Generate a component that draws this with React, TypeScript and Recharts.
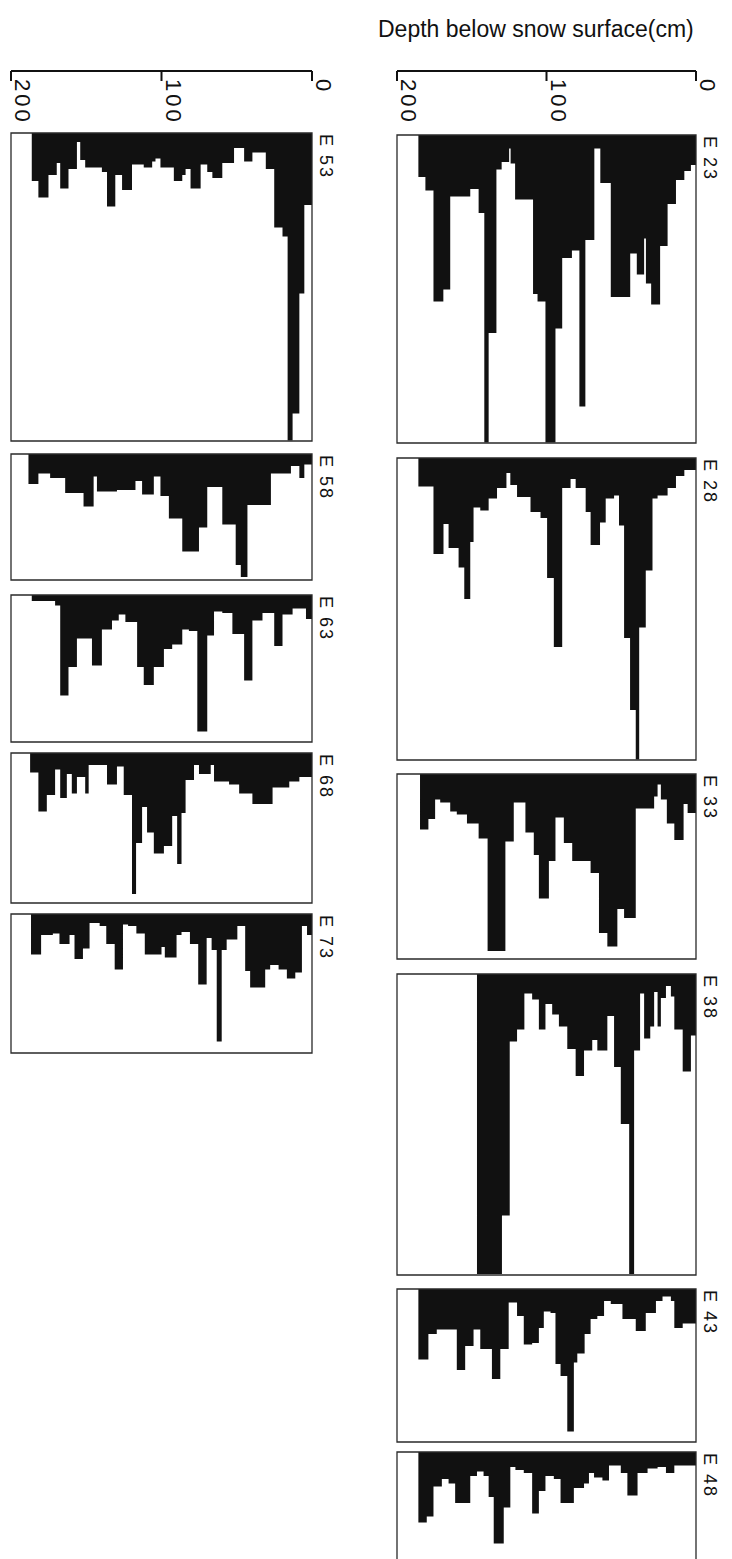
import React from 'react';
import { AreaChart, Area, XAxis, YAxis, ReferenceArea } from 'recharts';

// each profile: [depth where the step starts (cm), length of the black band from the top (cm)]
type Step = [number, number];

const E23: Step[] = [
  [0, 20], [3.4, 24], [7.8, 30], [13.4, 46], [19, 74], [24, 113], [30, 99], [33.5, 69], [34.7, 93],
  [39.6, 79], [44, 108], [57, 32], [64, 9], [68, 70], [74, 181], [78, 77], [83, 82], [89.5, 129],
  [94, 205], [100.7, 111], [106, 106], [109, 43], [121, 19], [124, 9], [125, 18], [130, 23],
  [133.5, 132], [138.7, 205], [141.6, 52], [145.4, 36], [151, 41], [164.4, 103], [169, 111],
  [175.6, 37], [181, 28], [185.7, 0], [200, 0],
];
const E28: Step[] = [
  [0, 8], [7.8, 12], [13.4, 20], [19, 25], [25.7, 27], [29.1, 75], [33.6, 113], [38, 201], [40.3, 168],
  [44.1, 120], [48.1, 45], [51.5, 25], [54.8, 27], [60.4, 43], [64.2, 58], [70.5, 36], [73.8, 20],
  [80.5, 14], [83.9, 20], [89.5, 126], [95.1, 80], [99.6, 40], [104, 36], [110.7, 26], [119.7, 18],
  [124.2, 10], [126.8, 20], [133.1, 27], [138.7, 35], [144.3, 33], [148.8, 56], [151, 94], [155, 73],
  [158.8, 60], [165.5, 44], [168.9, 64], [175.6, 19], [185.7, 0], [200, 0],
];
const E33: Step[] = [
  [0, 26], [5.6, 20], [8.3, 44], [14.5, 33], [19.5, 17], [23.5, 7], [25.7, 15], [28, 23], [40.3, 96],
  [48.1, 90], [52.6, 115], [59.3, 106], [64.9, 66], [70.5, 58], [82.8, 46], [88.4, 29], [94, 58],
  [98.4, 83], [105.1, 54], [108.5, 39], [114.1, 19], [121.9, 45], [127.5, 118], [139.4, 43],
  [145.4, 33], [153.2, 27], [160, 25], [164.4, 19], [171.1, 17], [174.5, 30], [179, 37], [184.6, 0],
  [200, 0],
];
const E38: Step[] = [
  [0, 41], [3.4, 65], [8.9, 37], [14.5, 15], [16.8, 8], [20.1, 16], [23.5, 35], [25.7, 12], [28, 35],
  [30.6, 43], [34.7, 13], [37.4, 51], [41.4, 200], [44.7, 100], [50.3, 62], [54.8, 28], [59.3, 51],
  [66, 44], [69.4, 51], [74.9, 68], [80.5, 50], [86.1, 35], [91.7, 27], [96.2, 20], [100.7, 37],
  [105.1, 17], [109.6, 13], [114.8, 37], [119.7, 45], [124.6, 161], [129.8, 200], [146.5, 0], [200, 0],
];
const E43: Step[] = [
  [0, 23], [8.9, 26], [14.5, 8], [16.8, 5], [22.4, 8], [26.8, 16], [33.6, 28], [40.3, 20], [49.2, 10],
  [57, 8], [61.5, 18], [66, 20], [70.5, 30], [74.5, 43], [79.4, 49], [81.7, 95], [86.1, 58],
  [90.6, 50], [94, 16], [97.3, 15], [101.8, 26], [105.1, 36], [109.6, 37], [115.2, 18], [119.7, 9],
  [125.3, 40], [130.9, 60], [136.5, 40], [144.3, 27], [148.8, 38], [154.4, 54], [160, 27], [173.4, 30],
  [179, 47], [185.7, 0], [200, 0],
];
const E48: Step[] = [
  [0, 9], [14.5, 14], [20.1, 10], [25.7, 11], [32.4, 14], [39.1, 29], [45.9, 14], [50.3, 9], [58.2, 19],
  [62.6, 17], [68.2, 14], [71.6, 21], [74.9, 24], [81.7, 34], [90.6, 18], [95.1, 16], [100.7, 26],
  [105.1, 41], [109.6, 14], [115.2, 12], [120.8, 10], [124.2, 37], [128.6, 61], [135.3, 30],
  [138.7, 16], [142.1, 13], [146.5, 16], [151, 34], [161.1, 21], [165.5, 18], [170, 23], [175.6, 43],
  [180.1, 47], [185.7, 0], [200, 0],
];
const E53: Step[] = [
  [0, 48], [5.1, 107], [8.4, 187], [12.9, 205], [16.2, 69], [19.6, 63], [25.1, 24], [30.7, 13],
  [39.6, 19], [45.1, 10], [51.8, 20], [59.6, 30], [66.2, 26], [69.6, 21], [74, 37], [80.7, 24],
  [84, 28], [86.2, 32], [91.8, 23], [100.7, 17], [104, 19], [106.2, 23], [111.8, 21], [119.6, 38],
  [126.2, 28], [130.7, 49], [136.2, 26], [139.6, 23], [150.7, 18], [154, 6], [156.2, 24], [161.8, 37],
  [167.3, 20], [169.6, 28], [175.1, 43], [181.8, 32], [186.2, 0], [200, 0],
];
const E58: Step[] = [
  [0, 7], [5.1, 16], [8.4, 8], [14, 13], [27.3, 34], [42.9, 82], [47.3, 74], [50.7, 47], [59.6, 22],
  [69.6, 49], [75.1, 65], [86.2, 43], [95.1, 28], [100.7, 15], [105.1, 27], [112.9, 18], [117.3, 24],
  [129.6, 25], [142.9, 15], [145.1, 35], [151.8, 26], [164, 16], [174, 13], [181.8, 20], [188.4, 0],
  [200, 0],
];
const E63: Step[] = [
  [0, 16], [4, 9], [12.9, 13], [19.6, 34], [25.1, 12], [32.9, 17], [39.6, 57], [45.1, 26], [52.9, 12],
  [59.6, 11], [65.1, 27], [69.6, 91], [76.2, 24], [81.8, 23], [86.2, 33], [92.9, 36], [98.4, 48],
  [105.1, 60], [111.8, 48], [116.2, 18], [124, 13], [128.4, 17], [132.9, 23], [139.6, 47], [146.2, 29],
  [156.2, 48], [161.8, 67], [167.3, 7], [170.7, 4], [186.2, 0], [200, 0],
];
const E68: Step[] = [
  [0, 16], [8.4, 19], [15.1, 23], [26.2, 34], [39.6, 27], [48.4, 21], [55.1, 19], [65.1, 8], [67.3, 14],
  [75.1, 8], [78.4, 18], [84, 40], [86.7, 74], [89.6, 42], [92.9, 62], [98.4, 67], [105.1, 53],
  [109.6, 36], [112.9, 60], [116.9, 94], [119.6, 28], [125.1, 9], [129.6, 21], [136.2, 8], [148.4, 27],
  [150.7, 16], [156.2, 27], [159.6, 14], [162.9, 30], [167.3, 11], [170.7, 28], [176.2, 39],
  [181.8, 13], [187.3, 0], [200, 0],
];
const E73: Step[] = [
  [0, 14], [3.3, 8], [6.7, 39], [11.1, 43], [16.7, 37], [22.2, 34], [27.8, 37], [31.1, 49], [41.1, 38],
  [44.4, 8], [49.6, 17], [56.7, 24], [60, 85], [63.3, 24], [66.7, 16], [70, 47], [75.6, 20], [81.1, 12],
  [86.7, 14], [90, 29], [97.8, 22], [100, 27], [111.1, 13], [116.7, 8], [122.2, 7], [125.6, 37],
  [131.1, 20], [136.7, 8], [141.1, 6], [147.8, 23], [152.2, 30], [157.8, 14], [161.1, 20], [167.8, 13],
  [172.2, 14], [180, 27], [186.7, 0], [200, 0],
];

const DEPTH_TICKS = [0, 100, 200];
const FONT = 'Arial, "Liberation Sans", Helvetica, sans-serif';
const INK = '#111';
const PX_PER_CM = 1.5;

const COLS = {
  R: { left: 397, width: 299 },
  L: { left: 11, width: 301 },
};

const PANELS = [
  { name: 'E 23', steps: E23, col: 'R', top: 135, h: 308 },
  { name: 'E 28', steps: E28, col: 'R', top: 458, h: 302 },
  { name: 'E 33', steps: E33, col: 'R', top: 774, h: 185 },
  { name: 'E 38', steps: E38, col: 'R', top: 974, h: 301 },
  { name: 'E 43', steps: E43, col: 'R', top: 1289, h: 153 },
  { name: 'E 48', steps: E48, col: 'R', top: 1452, h: 160 },
  { name: 'E 53', steps: E53, col: 'L', top: 133, h: 308 },
  { name: 'E 58', steps: E58, col: 'L', top: 454, h: 126 },
  { name: 'E 63', steps: E63, col: 'L', top: 595, h: 147 },
  { name: 'E 68', steps: E68, col: 'L', top: 753, h: 150 },
  { name: 'E 73', steps: E73, col: 'L', top: 914, h: 139 },
];

const RotTick = (props: any) => {
  const { x, y, payload } = props;
  return (
    <text
      transform={`translate(${x + 4},${y - 4}) rotate(90)`}
      fontSize={22}
      fontFamily={FONT}
      letterSpacing={3}
      fill={INK}
    >
      {payload.value}
    </text>
  );
};

const DepthAxis = ({ left, width }: { left: number; width: number }) => {
  const m = 3;
  const extra = 30; // room for the rotated "0" label right of the axis end
  return (
    <div style={{ position: 'absolute', left: left - m, top: 40 }}>
      <AreaChart
        width={width + 2 * m + extra}
        height={95}
        data={[{ d: 0, len: 0 }, { d: 200, len: 0 }]}
        margin={{ top: 0, right: m + extra, bottom: 0, left: m }}
      >
        <XAxis
          type="number"
          dataKey="d"
          domain={[0, 200]}
          reversed
          ticks={DEPTH_TICKS}
          interval={0}
          height={64}
          tickSize={10}
          axisLine={{ stroke: INK, strokeWidth: 2 }}
          tickLine={{ stroke: INK, strokeWidth: 2 }}
          tick={<RotTick />}
        />
        <YAxis hide domain={[0, 1]} />
        <Area dataKey="len" stroke="none" fill="none" isAnimationActive={false} />
      </AreaChart>
    </div>
  );
};

const Panel = ({ name, steps, left, width, top, h }: any) => {
  const data = steps.map(([d, len]: Step) => ({ d, len }));
  const H = h / PX_PER_CM;
  const m = 2;
  return (
    <>
      <div style={{ position: 'absolute', left: left - m, top: top - m }}>
        <AreaChart
          width={width + 2 * m}
          height={h + 2 * m}
          data={data}
          margin={{ top: m, right: m, bottom: m, left: m }}
        >
          <XAxis type="number" dataKey="d" domain={[0, 200]} reversed hide />
          <YAxis type="number" domain={[0, H]} reversed hide allowDataOverflow />
          <Area
            type="stepAfter"
            dataKey="len"
            stroke="none"
            fill={INK}
            fillOpacity={1}
            baseValue={0}
            isAnimationActive={false}
          />
          <ReferenceArea
            x1={0}
            x2={200}
            y1={0}
            y2={H}
            fill="none"
            stroke="#2a2a2a"
            strokeWidth={1.3}
            ifOverflow="visible"
          />
        </AreaChart>
      </div>
      <svg
        width={30}
        height={70}
        style={{ position: 'absolute', left: left + width + 4, top }}
      >
        <text
          transform="translate(4,1) rotate(90)"
          fontSize={18}
          letterSpacing={2}
          fontFamily={FONT}
          fill={INK}
        >
          {name}
        </text>
      </svg>
    </>
  );
};

export default function App() {
  return (
    <div
      style={{
        position: 'absolute',
        left: 0,
        top: 0,
        width: 732,
        height: 1559,
        overflow: 'hidden',
        background: '#fff',
        fontFamily: FONT,
      }}
    >
      <div
        style={{
          position: 'absolute',
          left: 378,
          top: 18,
          fontSize: 23,
          lineHeight: '23px',
          color: INK,
          whiteSpace: 'nowrap',
        }}
      >
        Depth below snow surface(cm)
      </div>
      <DepthAxis left={COLS.R.left} width={COLS.R.width} />
      <DepthAxis left={COLS.L.left} width={COLS.L.width} />
      {PANELS.map((p) => {
        const c = COLS[p.col as 'R' | 'L'];
        return (
          <Panel
            key={p.name}
            name={p.name}
            steps={p.steps}
            left={c.left}
            width={c.width}
            top={p.top}
            h={p.h}
          />
        );
      })}
    </div>
  );
}
